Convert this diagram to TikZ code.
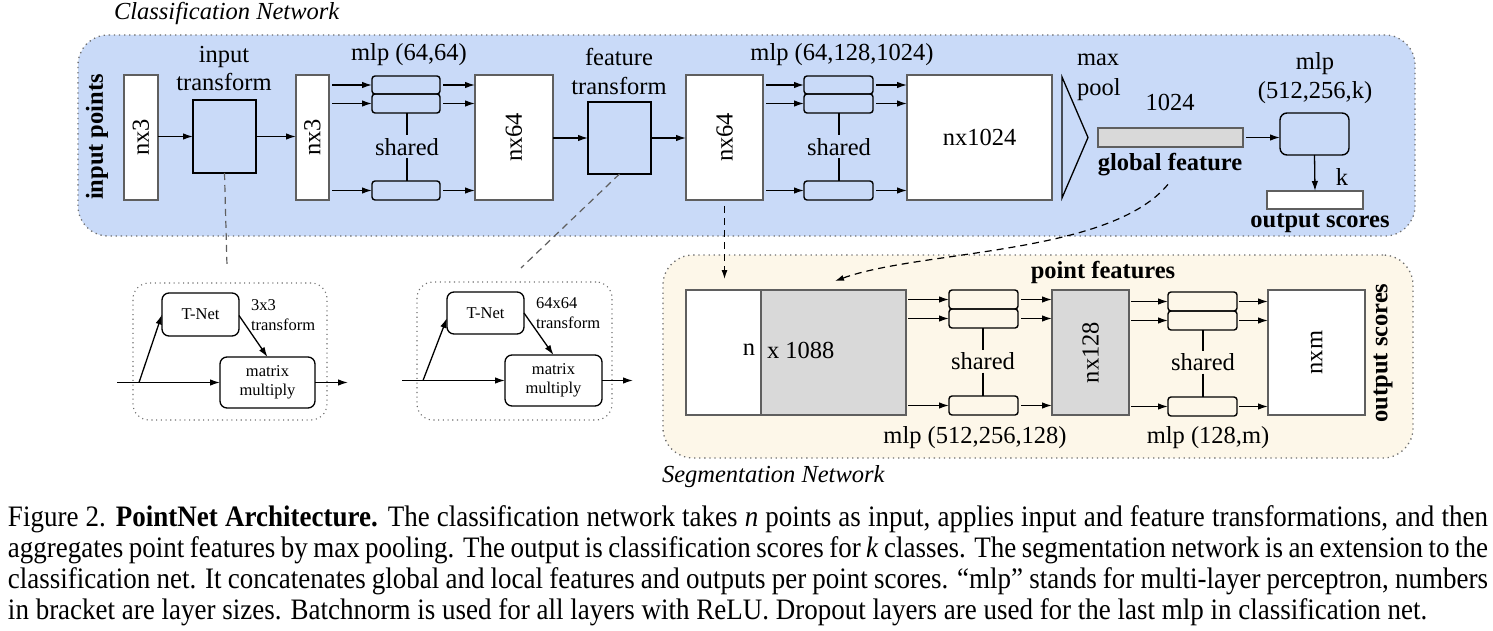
\documentclass[tikz,border=0pt]{standalone}
\usepackage{fontspec}
\usepackage{graphicx}
\setmainfont{Liberation Serif}
\usetikzlibrary{arrows.meta,calc}
\definecolor{clsblue}{RGB}{201,218,248}
\definecolor{segcream}{RGB}{253,247,233}
\definecolor{boxgray}{RGB}{217,217,217}
\definecolor{edgegray}{RGB}{95,95,95}
\definecolor{dotgray}{RGB}{110,110,110}
\begin{document}
\begin{tikzpicture}[x=1pt,y=-1pt,
  every node/.style={font=\fontsize{24.5}{28}\selectfont, inner sep=0pt, outer sep=0pt},
  region/.style={draw=dotgray, line width=1.3pt, dash pattern=on 1.3pt off 3.8pt, rounded corners=30pt},
  smallregion/.style={draw=dotgray, line width=1.1pt, dash pattern=on 1.1pt off 3.6pt, rounded corners=16pt},
  bigbox/.style={draw=edgegray, line width=1.2pt, fill=white},
  graybox/.style={bigbox, fill=boxgray},
  tbox/.style={draw=black, line width=1.3pt},
  mlpbox/.style={draw=black, line width=1.4pt, rounded corners=3pt},
  tnbox/.style={draw=black, line width=1.3pt, rounded corners=7pt, font=\fontsize{16.5}{19}\selectfont, align=center},
  arr/.style={line width=1.3pt, -{Latex[length=10pt,width=6.5pt]}},
  darr/.style={line width=1.2pt, dash pattern=on 7pt off 5pt, -{Latex[length=9pt,width=6pt]}},
  dline/.style={line width=1.2pt, dash pattern=on 7pt off 5pt, draw=edgegray},
  sline/.style={line width=2.2pt},
  smalltext/.style={font=\fontsize{16.5}{20}\selectfont},
  boldtext/.style={font=\fontsize{24.5}{28}\selectfont\bfseries},
  sharedlbl/.style={minimum height=23pt},
  captionline/.style={anchor=base west, font=\fontsize{27}{31}\selectfont},
]
\useasboundingbox (0,0) rectangle (1493,631);

% ---------- regions ----------
\node[region, fill=clsblue, minimum width=1337, minimum height=201] (cls) at (746.5,135.5) {};
\node[region, fill=segcream, minimum width=750, minimum height=203] (seg) at (1038,356.5) {};
\node[anchor=west, font=\fontsize{24.5}{28}\selectfont\itshape] (clsname) at (114,13) {Classification Network};
\node[anchor=west, font=\fontsize{24.5}{28}\selectfont\itshape] (segname) at (662,477) {Segmentation Network};

% ---------- classification network ----------
\node[boldtext, rotate=90] (inpts) at (97,137) {input points};
\node[bigbox, minimum width=34, minimum height=125] (b1) at (141,137.5) {\rotatebox{90}{nx3}};
\node[tbox, minimum width=63, minimum height=73] (itf) at (224.5,136.5) {};
\node[align=center] (itfl) at (224,69) {input\\transform};
\node[bigbox, minimum width=33, minimum height=125] (b2) at (312.5,137.5) {\rotatebox{90}{nx3}};
\draw[arr] (b1.east |- itf.west) -- (itf.west);
\draw[arr] (itf.east) -- (b2.west |- itf.east);

\node[mlpbox, minimum width=68, minimum height=18] (m1a) at (406,85) {};
\node[mlpbox, minimum width=68, minimum height=19] (m1b) at (406,103.5) {};
\node[mlpbox, minimum width=68, minimum height=19] (m1c) at (406,190.5) {};
\node[sharedlbl] (s1) at (407,147) {shared};
\node (m1l) at (409,55) {mlp (64,64)};
\draw[sline] (m1b.south -| s1) -- (s1.north);
\draw[sline] (s1.south) -- (m1c.north -| s1);
\node[bigbox, minimum width=78, minimum height=125] (b3) at (514,137.5) {\rotatebox{90}{nx64}};
\foreach \m in {m1a,m1b,m1c}{
  \draw[arr] ($(b2.east |- \m.west)+(3,0)$) -- (\m.west);
  \draw[arr] ($(\m.east)+(3,0)$) -- (b3.west |- \m.east);
}

\node[tbox, minimum width=63, minimum height=72] (ftf) at (619.5,138) {};
\node[align=center, font=\fontsize{24.5}{29}\selectfont] (ftfl) at (619,71.5) {feature\\transform};
\node[bigbox, minimum width=77, minimum height=125] (b4) at (724.5,137.5) {\rotatebox{90}{nx64}};
\draw[arr] (b3.east |- ftf.west) -- (ftf.west);
\draw[arr] (ftf.east) -- (b4.west |- ftf.east);

\node[mlpbox, minimum width=69, minimum height=18] (m2a) at (838.5,85) {};
\node[mlpbox, minimum width=69, minimum height=19] (m2b) at (838.5,103.5) {};
\node[mlpbox, minimum width=69, minimum height=19] (m2c) at (838.5,190.5) {};
\node[sharedlbl] (s2) at (839,147) {shared};
\node (m2l) at (842,55) {mlp (64,128,1024)};
\draw[sline] (m2b.south -| s2) -- (s2.north);
\draw[sline] (s2.south) -- (m2c.north -| s2);
\node[bigbox, minimum width=145, minimum height=125] (b5) at (979.5,137.5) {nx1024};
\foreach \m in {m2a,m2b,m2c}{
  \draw[arr] ($(b4.east |- \m.west)+(3,0)$) -- (\m.west);
  \draw[arr] ($(\m.east)+(3,0)$) -- (b5.west |- \m.east);
}

% max pool
\coordinate (mpa) at (1062,77);
\coordinate (mpb) at (1088,137.5);
\coordinate (mpc) at (1062,198);
\draw[line width=1.3pt, line join=miter] (mpa) -- (mpb) -- (mpc) -- cycle;
\node[anchor=west, align=left, font=\fontsize{24.5}{30}\selectfont] (mpl) at (1077,77) {max\\pool};

\node[graybox, minimum width=145, minimum height=19] (gf) at (1170.5,137.5) {};
\node (gfn) at (1170,102) {1024};
\node[boldtext] (gfl) at (1170,165) {global feature};
\node[mlpbox, rounded corners=7pt, minimum width=69, minimum height=42] (m3) at (1314.5,134) {};
\node[align=center, font=\fontsize{24.5}{29}\selectfont] (m3l) at (1315,78.5) {mlp\\(512,256,k)};
\node[bigbox, minimum width=96, minimum height=18] (os) at (1315,200) {};
\node (kl) at (1342,177) {k};
\node[boldtext] (osl) at (1320,223) {output scores};
\draw[arr] ($(gf.east)+(3,0)$) -- (m3.west |- gf.east);
\draw[arr] (m3.south) -- (os.north);

% ---------- T-Net blocks ----------
\node[smallregion, minimum width=194, minimum height=137] (tn1box) at (230,351.5) {};
\node[tnbox, minimum width=77, minimum height=43] (tn1) at (200.5,314.5) {T-Net};
\node[tnbox, minimum width=95, minimum height=51] (mm1) at (267.5,382.5) {matrix\\multiply};
\node[smalltext, anchor=west, align=left] (tn1l) at (251,315) {3x3\\transform};
\coordinate (in1) at (117,382.5);
\coordinate (br1) at (139,382.5);
\coordinate (out1) at (348,382.5);
\draw[line width=1.3pt] (in1) -- (br1);
\draw[arr] (br1) -- (mm1.west);
\draw[arr] (br1) -- (tn1.west);
\draw[arr] ($(tn1.east)+(0,1)$) -- (mm1.north);
\draw[arr] (mm1.east) -- (out1);

\node[smallregion, minimum width=195, minimum height=138] (tn2box) at (514.5,351) {};
\node[tnbox, minimum width=77, minimum height=42] (tn2) at (485.5,313) {T-Net};
\node[tnbox, minimum width=97, minimum height=51] (mm2) at (553.5,380.5) {matrix\\multiply};
\node[smalltext, anchor=west, align=left] (tn2l) at (536,313) {64x64\\transform};
\coordinate (in2) at (402,380.5);
\coordinate (br2) at (423,380.5);
\coordinate (out2) at (633,380.5);
\draw[line width=1.3pt] (in2) -- (br2);
\draw[arr] (br2) -- (mm2.west);
\draw[arr] (br2) -- ($(tn2.west)+(0,5)$);
\draw[arr] (tn2.east) -- (mm2.north);
\draw[arr] (mm2.east) -- (out2);

% dashed links
\coordinate (d1) at (227,266);
\coordinate (d2) at (521,268);
\draw[dline] (itf.south) -- (d1);
\draw[dline] (ftf.south) -- (d2);

% ---------- segmentation network ----------
\node[boldtext] (pfl) at (1103,272) {point features};
\node[bigbox, minimum width=75, minimum height=125] (cw) at (723.5,352.5) {};
\node[graybox, minimum width=145, minimum height=125] (cg) at (833.5,352.5) {};
\node[anchor=east] (nl) at (755,350) {n};
\node[anchor=west] (xl) at (767,350) {x 1088};

\coordinate (segin1) at (724.5,279);
\coordinate (segin2) at (835,281);
\draw[darr] ($(b4.south)+(0,6)$) -- (segin1);
\draw[darr] ($(gfl.south)+(-2,8)$) .. controls (1110,255) and (920,250) .. (segin2);

\node[mlpbox, minimum width=69, minimum height=19] (m4a) at (983.5,299.5) {};
\node[mlpbox, minimum width=69, minimum height=19] (m4b) at (983.5,318.5) {};
\node[mlpbox, minimum width=69, minimum height=19] (m4c) at (983.5,405.5) {};
\node[sharedlbl] (s4) at (983,361) {shared};
\node (m4l) at (975,438) {mlp (512,256,128)};
\draw[sline] (m4b.south -| s4) -- (s4.north);
\draw[sline] (s4.south) -- (m4c.north -| s4);
\node[graybox, minimum width=77, minimum height=125] (b6) at (1090.5,352.5) {\rotatebox{90}{nx128}};
\foreach \m in {m4a,m4b,m4c}{
  \draw[arr] ($(cg.east |- \m.west)+(2,0)$) -- (\m.west);
  \draw[arr] ($(\m.east)+(3,0)$) -- (b6.west |- \m.east);
}

\node[mlpbox, minimum width=69, minimum height=19] (m5a) at (1202.5,301.5) {};
\node[mlpbox, minimum width=69, minimum height=19] (m5b) at (1202.5,320.5) {};
\node[mlpbox, minimum width=69, minimum height=19] (m5c) at (1202.5,406.5) {};
\node[sharedlbl] (s5) at (1203,362) {shared};
\node (m5l) at (1208,438) {mlp (128,m)};
\draw[sline] (m5b.south -| s5) -- (s5.north);
\draw[sline] (s5.south) -- (m5c.north -| s5);
\node[bigbox, minimum width=97, minimum height=125] (b7) at (1316.5,352.5) {\rotatebox{90}{nxm}};
\node[boldtext, rotate=90] (osl2) at (1383,353) {output scores};
\foreach \m in {m5a,m5b,m5c}{
  \draw[arr] ($(b6.east |- \m.west)+(2,0)$) -- (\m.west);
  \draw[arr] ($(\m.east)+(2,0)$) -- (b7.west |- \m.east);
}

% ---------- caption ----------
\node[captionline] (cap1) at (8,526) {\scalebox{1}[1.1]{\makebox[1480pt][s]{Figure 2. \textbf{PointNet Architecture.} The classification network takes \textit{n} points as input, applies input and feature transformations, and then}}};
\node[captionline] (cap2) at (8,557) {\scalebox{1}[1.1]{\makebox[1480pt][s]{aggregates point features by max pooling. The output is classification scores for \textit{k} classes. The segmentation network is an extension to the}}};
\node[captionline] (cap3) at (8,588) {\scalebox{1}[1.1]{\makebox[1480pt][s]{classification net. It concatenates global and local features and outputs per point scores. ``mlp'' stands for multi-layer perceptron, numbers}}};
\node[captionline] (cap4) at (8,619) {\scalebox{1}[1.1]{in bracket are layer sizes. Batchnorm is used for all layers with ReLU. Dropout layers are used for the last mlp in classification net.}};
\end{tikzpicture}
\end{document}
